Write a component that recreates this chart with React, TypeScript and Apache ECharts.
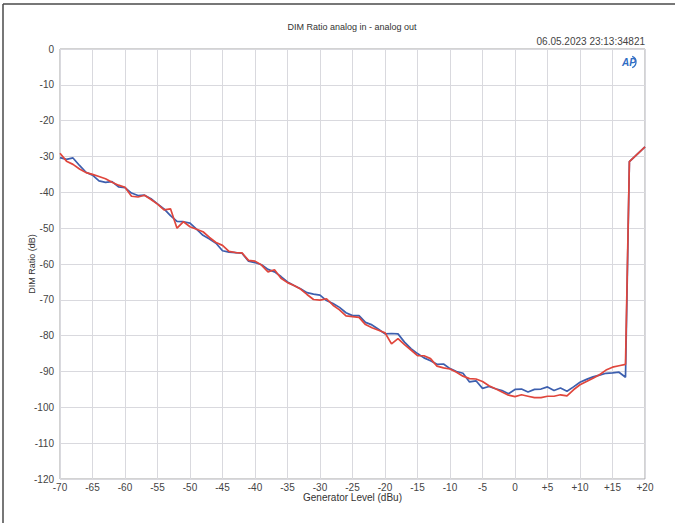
import React, { useEffect, useRef } from "react";
import * as echarts from "echarts";

const title = "DIM Ratio analog in - analog out";
const timestamp = "06.05.2023 23:13:34821";
const xAxisName = "Generator Level (dBu)";
const yAxisName = "DIM Ratio (dB)";

const xTicks = { min: -70, max: 20, interval: 5 };
const yTicks = { min: -120, max: 0, interval: 10 };

// Generator level (dBu) for the stepped sweep
const levels = [
  -70, -69, -68, -67, -66, -65, -64, -63, -62, -61, -60, -59, -58, -57, -56, -55, -54, -53, -52, -51,
  -50, -49, -48, -47, -46, -45, -44, -43, -42, -41, -40, -39, -38, -37, -36, -35, -34, -33, -32, -31,
  -30, -29, -28, -27, -26, -25, -24, -23, -22, -21, -20, -19, -18, -17, -16, -15, -14, -13, -12, -11,
  -10, -9, -8, -7, -6, -5, -4, -3, -2, -1, 0, 1, 2, 3, 4, 5, 6, 7, 8, 9, 10, 11, 12, 13, 14, 15, 16, 17,
  17.6, 20,
];

const blueValues = [
  -30.3, -30.8, -30.4, -32.5, -34.4, -35.2, -36.8, -37.2, -37.0, -38.5, -38.7, -40.2, -40.9, -40.8, -41.8, -43.2, -44.6, -46.5, -48.1, -48.2,
  -48.6, -50.3, -52.0, -53.0, -54.2, -56.3, -56.7, -56.8, -57.0, -59.2, -59.6, -60.2, -61.5, -62.2, -63.5, -65.0, -66.0, -66.9, -68.0, -68.4,
  -68.7, -70.2, -71.0, -72.1, -73.6, -74.4, -74.4, -76.3, -77.0, -78.2, -79.5, -79.4, -79.5, -81.8, -83.6, -85.0, -86.2, -87.0, -88.0, -87.9,
  -89.2, -90.0, -90.5, -92.9, -92.6, -94.7, -94.2, -94.8, -95.3, -96.2, -95.0, -94.9, -95.7, -95.0, -94.9, -94.3, -95.3, -94.6, -95.5, -94.3,
  -93.0, -92.2, -91.5, -91.0, -90.5, -90.4, -90.2, -91.6,
  -31.4, -27.3,
];

const redValues = [
  -29.1, -31.3, -32.2, -33.5, -34.5, -35.0, -35.6, -36.2, -37.2, -38.0, -38.6, -41.1, -41.3, -40.8, -42.0, -43.3, -44.9, -44.6, -50.0, -48.2,
  -49.6, -50.3, -51.0, -52.6, -54.0, -54.8, -56.5, -56.8, -56.9, -59.0, -59.2, -60.3, -62.2, -61.6, -64.0, -65.2, -66.0, -67.0, -68.5, -69.9,
  -70.1, -69.7, -71.5, -72.8, -74.5, -74.7, -74.9, -76.9, -77.8, -78.5, -79.2, -82.3, -80.8, -82.5, -84.0, -85.6, -85.6, -86.4, -88.5, -89.0,
  -89.3, -90.2, -91.3, -92.0, -92.1, -92.8, -94.0, -94.8, -95.7, -96.6, -97.0, -96.5, -96.9, -97.3, -97.3, -96.9, -96.9, -96.5, -96.8, -95.1,
  -93.7, -92.8, -91.9, -90.9, -89.6, -88.8, -88.4, -88.0,
  -31.4, -27.3,
];

const FONT = "'Liberation Sans', Arial, sans-serif";

export default function App() {
  const ref = useRef<HTMLDivElement>(null);

  useEffect(() => {
    if (!ref.current) return;
    const chart = echarts.init(ref.current, undefined, { renderer: "svg" });
    const pair = (vals: number[]) => levels.map((x, i) => [x, vals[i]]);
    chart.setOption({
      animation: false,
      backgroundColor: "#ffffff",
      textStyle: { fontFamily: FONT },
      grid: {
        left: 60,
        top: 49,
        width: 585,
        height: 430,
        show: true,
        borderColor: "#a6a6a6",
        borderWidth: 1,
        backgroundColor: "#ffffff",
      },
      graphic: [
        { type: "line", shape: { x1: 3, y1: 4, x2: 675, y2: 4 }, style: { stroke: "#4a4a4a", lineWidth: 1.5 } },
        { type: "line", shape: { x1: 3, y1: 4, x2: 3, y2: 523 }, style: { stroke: "#4a4a4a", lineWidth: 1.5 } },
        {
          type: "text",
          x: 352,
          y: 27,
          style: { text: title, fill: "#333", font: `9px ${FONT}`, textAlign: "center", textVerticalAlign: "middle" },
        },
        {
          type: "text",
          x: 645,
          y: 41,
          style: { text: timestamp, fill: "#444", font: `10px ${FONT}`, textAlign: "right", textVerticalAlign: "middle" },
        },
        {
          type: "text",
          x: 629,
          y: 62,
          style: {
            text: "AP",
            fill: "#2f6dc4",
            font: `italic bold 10px ${FONT}`,
            textAlign: "center",
            textVerticalAlign: "middle",
          },
        },
        {
          type: "arc",
          shape: { cx: 630, cy: 62, r: 6, startAngle: -1.2, endAngle: 1.2 },
          style: { stroke: "#2f6dc4", lineWidth: 1.3, fill: "none" },
        },
      ],
      xAxis: {
        type: "value",
        min: xTicks.min,
        max: xTicks.max,
        interval: xTicks.interval,
        name: xAxisName,
        nameLocation: "middle",
        nameGap: 13,
        nameMoveOverlap: false,
        nameTextStyle: { color: "#333", fontSize: 10, fontFamily: FONT },
        axisLine: { show: false },
        axisTick: { show: false },
        axisLabel: {
          color: "#444",
          fontSize: 10,
          margin: 3,
          fontFamily: FONT,
          formatter: (v: number) => (v > 0 ? "+" + v : String(v)),
        },
        splitLine: { show: true, lineStyle: { color: "#d9d9de", width: 1 } },
      },
      yAxis: {
        type: "value",
        min: yTicks.min,
        max: yTicks.max,
        interval: yTicks.interval,
        name: yAxisName,
        nameLocation: "middle",
        nameGap: 24,
        nameMoveOverlap: false,
        nameTextStyle: { color: "#333", fontSize: 9, fontFamily: FONT },
        axisLine: { show: false },
        axisTick: { show: false },
        axisLabel: { color: "#444", fontSize: 10, margin: 6, fontFamily: FONT },
        splitLine: { show: true, lineStyle: { color: "#d9d9de", width: 1 } },
      },
      series: [
        {
          type: "line",
          data: pair(blueValues),
          showSymbol: false,
          lineStyle: { color: "#3d5fae", width: 1.7 },
          z: 2,
        },
        {
          type: "line",
          data: pair(redValues),
          showSymbol: false,
          lineStyle: { color: "#e0463c", width: 1.7 },
          z: 3,
        },
      ],
    });
    return () => chart.dispose();
  }, []);

  return (
    <div
      ref={ref}
      style={{ position: "fixed", left: 0, top: 0, width: 675, height: 523, background: "#fff" }}
    />
  );
}
